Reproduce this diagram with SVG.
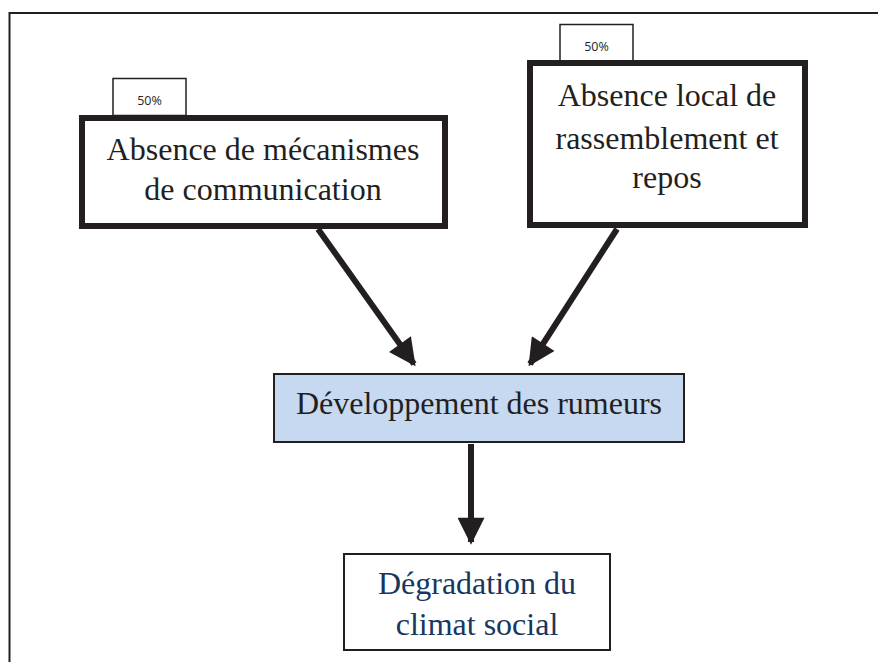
<svg xmlns="http://www.w3.org/2000/svg" width="878" height="662" viewBox="0 0 878 662">
<style>
.serif{font-family:"Liberation Serif","Times New Roman",serif;text-anchor:middle}
.big{font-size:32px;fill:#231f20}
.tag{fill:#fff;stroke:#231f20;stroke-width:1.5}
.tagt{font-family:"Open Sans","Liberation Sans",sans-serif;font-size:12.5px;fill:#231f20;text-anchor:middle}
.thick{fill:#fff;stroke:#231f20;stroke-width:6}
.conn{stroke:#231f20;stroke-width:6;fill:none}
</style>
<defs>
<marker id="ah" viewBox="0 0 10 10" refX="9" refY="5" markerWidth="4.8" markerHeight="4.5" orient="auto" markerUnits="strokeWidth">
<path d="M0,0 L10,5 L0,10 z" fill="#231f20"/>
</marker>
</defs>
<rect width="878" height="662" fill="#fff"/>
<path d="M9.5,662 V13 H878" fill="none" stroke="#231f20" stroke-width="2"/>
<g id="connectors">
<line class="conn" x1="318" y1="229" x2="414" y2="364" marker-end="url(#ah)"/>
<line class="conn" x1="617" y1="229" x2="530" y2="364" marker-end="url(#ah)"/>
<line class="conn" x1="471" y1="444" x2="471" y2="542" marker-end="url(#ah)"/>
</g>
<g id="node-mecanismes">
<rect class="tag" x="113" y="78.5" width="73" height="37"/>
<text class="tagt" x="149.5" y="105">50%</text>
<rect class="thick" x="82" y="118" width="363" height="108"/>
<text class="serif big" x="263" y="160">Absence de mécanismes</text>
<text class="serif big" x="263" y="200">de communication</text>
</g>
<g id="node-local">
<rect class="tag" x="560" y="24.5" width="73" height="37"/>
<text class="tagt" x="596.5" y="51">50%</text>
<rect class="thick" x="530" y="63" width="275" height="162"/>
<text class="serif big" x="667" y="106">Absence local de</text>
<text class="serif big" x="667" y="149">rassemblement et</text>
<text class="serif big" x="667" y="188">repos</text>
</g>
<g id="node-rumeurs">
<rect x="274" y="374" width="410" height="68" fill="#c6d9f1" stroke="#231f20" stroke-width="2"/>
<text class="serif big" x="479" y="414">Développement des rumeurs</text>
</g>
<g id="node-climat">
<rect x="344" y="554" width="266" height="96" fill="#fff" stroke="#231f20" stroke-width="2"/>
<text class="serif big" x="477" y="594" style="fill:#17375e">Dégradation du</text>
<text class="serif big" x="477" y="635" style="fill:#17375e">climat social</text>
</g>
</svg>
